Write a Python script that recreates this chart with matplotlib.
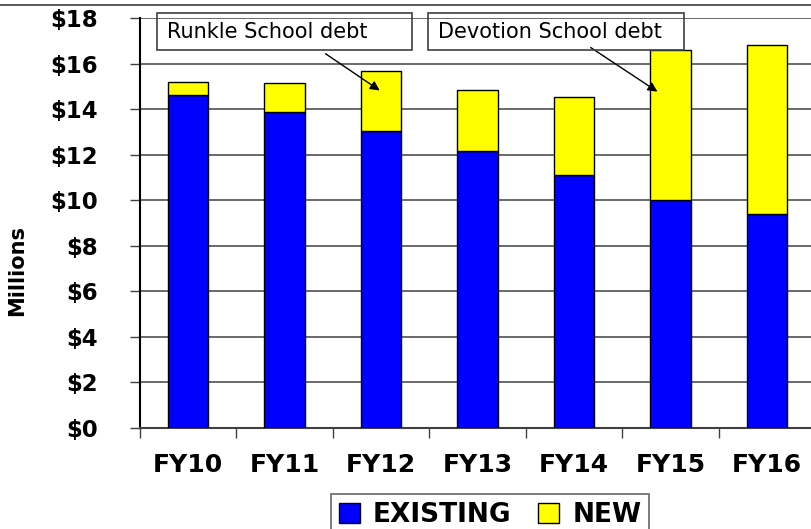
import matplotlib
matplotlib.use("Agg")
import matplotlib.pyplot as plt
from matplotlib.patches import Rectangle, Patch
from matplotlib.lines import Line2D

categories = ["FY10", "FY11", "FY12", "FY13", "FY14", "FY15", "FY16"]
existing = [14.6, 13.87, 13.04, 12.16, 11.1, 10.0, 9.39]
total = [15.19, 15.15, 15.67, 14.84, 14.53, 16.6, 16.8]
new = [t - e for t, e in zip(total, existing)]
yticks = list(range(0, 19, 2))
ytick_labels = ["$%d" % v for v in yticks]

W, H = 811, 529
fig = plt.figure(figsize=(W / 100, H / 100), dpi=100)
plt.rcParams['font.family'] = ['DejaVu Sans']


def fx(px):
    return px / W


def fy(py):
    return 1 - py / H


ax = fig.add_axes([fx(140), fy(428), 675 / W, 410 / H])
x = list(range(len(categories)))
ax.bar(x, existing, width=0.42, color="#0000FF", edgecolor="black", linewidth=1, zorder=3, label="EXISTING")
ax.bar(x, new, bottom=existing, width=0.42, color="#FFFF00", edgecolor="black", linewidth=1, zorder=3, label="NEW")

ax.set_xlim(-0.5, 6.5)
ax.set_ylim(0, 18)
ax.set_yticks(yticks)
ax.set_yticklabels(ytick_labels, fontsize=16.5, fontweight="bold")
ax.tick_params(axis="y", direction="out", length=7.5, width=1, pad=23, color="#404040")
ax.set_xticks(x)
ax.set_xticklabels(categories, fontsize=18, fontweight="bold")
ax.tick_params(axis="x", which="major", length=0, pad=18)
ax.set_xticks([i + 0.5 for i in range(-1, 7)], minor=True)
ax.tick_params(axis="x", which="minor", direction="out", length=7, width=1, color="#404040")
ax.grid(axis="y", color="#505050", linewidth=1.2, zorder=0)
ax.set_axisbelow(True)
for s in ["top", "right"]:
    ax.spines[s].set_visible(False)
ax.spines["left"].set_linewidth(1.5)
ax.spines["bottom"].set_linewidth(1.5)
ax.spines["bottom"].set_color("#404040")

fig.text(fx(17), fy(270), "Millions", rotation=90, fontsize=15, fontweight="bold",
         ha="center", va="center")

# top border line
fig.add_artist(Line2D([0, 1], [fy(5), fy(5)], color="#404040", linewidth=1.2))

# annotation boxes
for (x0, x1, label) in [(157, 412, "Runkle School debt"), (428, 684, "Devotion School debt")]:
    fig.add_artist(Rectangle((fx(x0), fy(50)), fx(x1) - fx(x0), fy(13) - fy(50),
                             facecolor="none", edgecolor="#404040", linewidth=1.2,
                             transform=fig.transFigure))
    fig.text(fx(x0 + 10), fy(32), label, fontsize=15, ha="left", va="center")

ax.annotate("", xy=(2.01, 14.75), xytext=(1.40, 16.5),
            arrowprops=dict(arrowstyle="-|>", color="black", lw=1, mutation_scale=14),
            annotation_clip=False, zorder=5)
ax.annotate("", xy=(4.89, 14.7), xytext=(4.15, 16.77),
            arrowprops=dict(arrowstyle="-|>", color="black", lw=1, mutation_scale=14),
            annotation_clip=False, zorder=5)

handles = [Patch(facecolor="#0000FF", edgecolor="black"), Patch(facecolor="#FFFF00", edgecolor="black")]
leg = fig.legend(handles, ["EXISTING", "NEW"], loc="upper center", bbox_to_anchor=(fx(490), fy(494)),
                 ncol=2, frameon=True, fancybox=False, prop={"size": 19, "weight": "bold"},
                 handlelength=0.8, handleheight=0.8, handletextpad=0.5, columnspacing=1.0,
                 borderpad=0.3, borderaxespad=0)
leg.get_frame().set_edgecolor("#404040")
leg.get_frame().set_linewidth(1.2)

fig.savefig("out.png", dpi=100)
